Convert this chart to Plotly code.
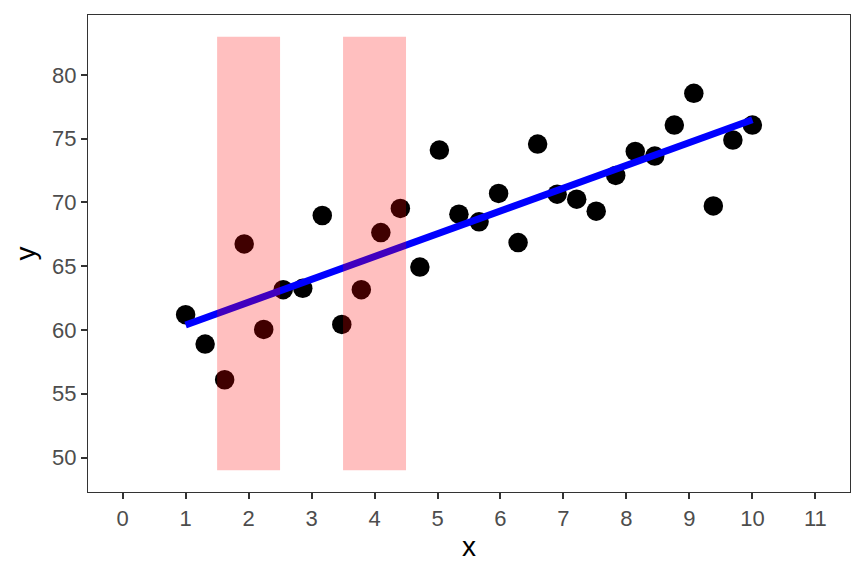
import numpy as np
import plotly.graph_objects as go

# Data
x_vals = [1.00, 1.31, 1.62, 1.93, 2.24, 2.55, 2.86, 3.17, 3.48, 3.79,
          4.10, 4.41, 4.72, 5.03, 5.34, 5.66, 5.97, 6.28, 6.59, 6.90,
          7.21, 7.52, 7.83, 8.14, 8.45, 8.76, 9.07, 9.38, 9.69, 10.00]
y_vals = [61.2, 58.9, 56.1, 66.75, 60.05, 63.16, 63.27, 68.98, 60.44, 63.16,
          67.64, 69.53, 64.94, 74.11, 69.08, 68.48, 70.71, 66.86, 74.58, 70.65,
          70.26, 69.32, 72.12, 74.0, 73.64, 76.07, 78.56, 69.73, 74.9, 76.07]

# Shaded bands
band_xmin = [1.5, 3.5]
band_xmax = [2.5, 4.5]
band_ymin = [49, 49]
band_ymax = [83, 83]

x_ticks = list(range(0, 12))
y_ticks = [50, 55, 60, 65, 70, 75, 80]

# Linear fit (like geom_smooth(method = "lm"))
slope, intercept = np.polyfit(x_vals, y_vals, 1)
fit_x = [min(x_vals), max(x_vals)]
fit_y = [intercept + slope * v for v in fit_x]

fig = go.Figure()

fig.add_trace(go.Scatter(
    x=x_vals, y=y_vals,
    mode='markers',
    marker=dict(size=19.5, color='black'),
    showlegend=False
))

fig.add_trace(go.Scatter(
    x=fit_x, y=fit_y,
    mode='lines',
    line=dict(color='#0000FF', width=7),
    showlegend=False
))

# Bands sit above the data, semi-transparent red
for x0, x1, y0, y1 in zip(band_xmin, band_xmax, band_ymin, band_ymax):
    fig.add_shape(type='rect', x0=x0, x1=x1, y0=y0, y1=y1,
                  xref='x', yref='y', layer='above',
                  fillcolor='rgba(255,0,0,0.25)', line=dict(width=0))

axis_common = dict(
    showgrid=False, zeroline=False,
    showline=True, mirror=True, linecolor='#333333', linewidth=1.3,
    ticks='outside', ticklen=6, tickwidth=1.8, tickcolor='#333333',
    tickfont=dict(size=22, color='#4D4D4D', family='Liberation Sans, Arial'),
    title_font=dict(size=28, color='black', family='Liberation Sans, Arial'),
)

fig.update_xaxes(axis_common, range=[-0.55, 11.55], tickvals=x_ticks,
                 title_text='x', title_standoff=6)
fig.update_yaxes(axis_common, range=[47.3, 84.7], tickvals=y_ticks,
                 title_text='y', title_standoff=8)

fig.update_layout(
    width=864, height=576,
    margin=dict(l=80, r=22, t=7, b=92),
    paper_bgcolor='white',
    plot_bgcolor='white',
)

fig.write_html("out.html")
